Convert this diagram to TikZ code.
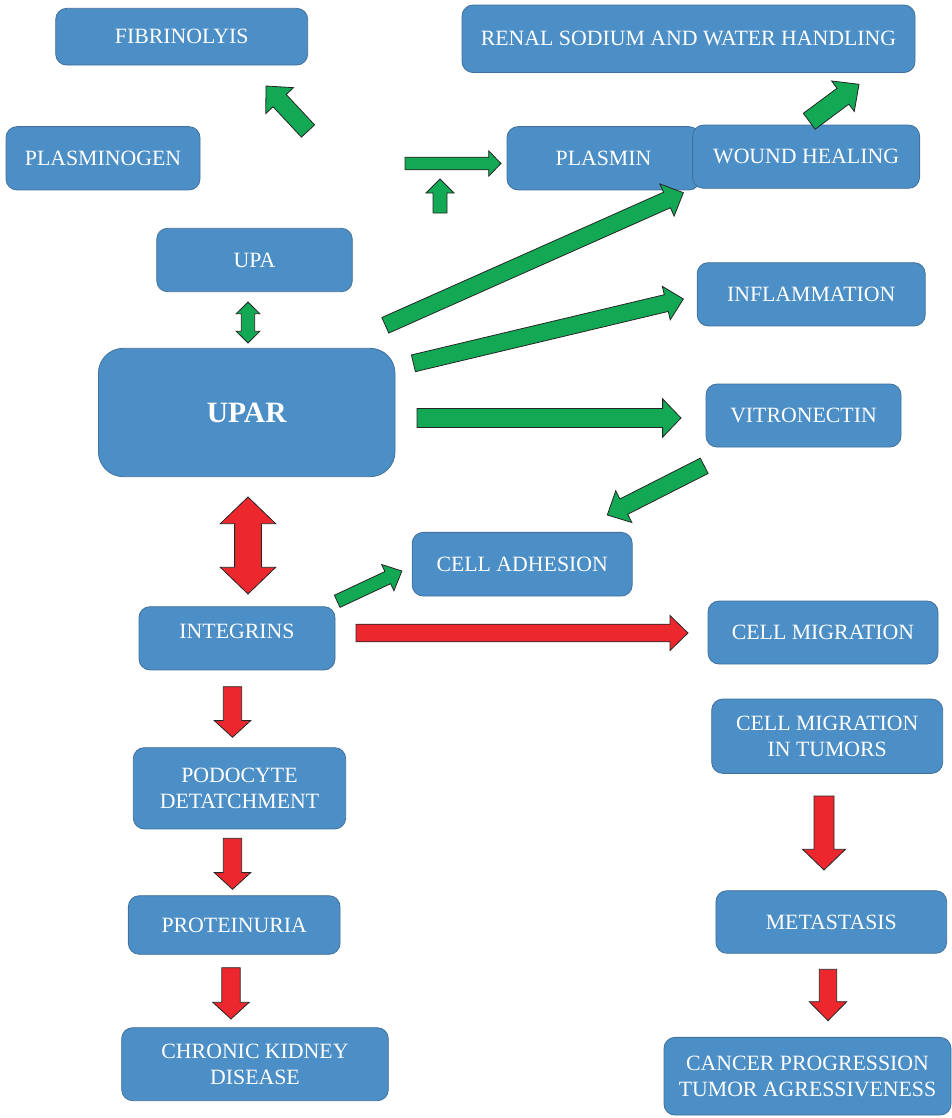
\documentclass[tikz,border=0pt]{standalone}
\usepackage{fontspec}
\setmainfont{Liberation Serif}
\usetikzlibrary{calc}
\definecolor{boxblue}{RGB}{76,142,198}
\definecolor{boxedge}{RGB}{65,113,156}
\definecolor{agreen}{RGB}{18,168,84}
\definecolor{ared}{RGB}{236,40,46}
% single block arrow: tail, tip, shaft half-width, head half-width, head length, style
\newcommand\blockarrow[6]{%
  \coordinate (hb) at ($(#2)!#5!(#1)$);
  \draw[#6] ($(#1)!#3!90:(#2)$) -- ($(hb)!#3!-90:(#1)$) -- ($(hb)!#4!-90:(#1)$) -- (#2)
    -- ($(hb)!#4!90:(#1)$) -- ($(hb)!#3!90:(#1)$) -- ($(#1)!#3!-90:(#2)$) -- cycle;
}
% double block arrow: end, end, shaft half-width, head half-width, head length, style
\newcommand\dblockarrow[6]{%
  \coordinate (ha) at ($(#1)!#5!(#2)$);
  \coordinate (hb) at ($(#2)!#5!(#1)$);
  \draw[#6] (#1) -- ($(ha)!#4!-90:(#2)$) -- ($(ha)!#3!-90:(#2)$) -- ($(hb)!#3!90:(#1)$)
    -- ($(hb)!#4!90:(#1)$) -- (#2) -- ($(hb)!#4!-90:(#1)$) -- ($(hb)!#3!-90:(#1)$)
    -- ($(ha)!#3!90:(#2)$) -- ($(ha)!#4!90:(#2)$) -- cycle;
}
\begin{document}
\begin{tikzpicture}[x=1pt,y=-1pt,
  box/.style={draw=boxedge, line width=0.8pt, fill=boxblue, rounded corners=11pt,
    text=white, font=\fontsize{21.8}{25.5}\selectfont, align=center, inner sep=0pt},
  garrow/.style={fill=agreen, draw=black!85, line width=0.8pt},
  rarrow/.style={fill=ared, draw=black!85, line width=0.8pt}]
\useasboundingbox (0,0) rectangle (952,1118);

% boxes
\node[box, minimum width=252pt, minimum height=56.7pt] (fib) at (181.7,36.7) {FIBRINOLYIS};
\node[box, minimum width=453pt, minimum height=67.5pt] (renal) at (688.5,38.8) {RENAL SODIUM AND WATER HANDLING};
\node[box, minimum width=194pt, minimum height=63.3pt] (plg) at (103,158.3) {PLASMINOGEN};
\node[box, minimum width=193pt, minimum height=63.3pt] (plasmin) at (603.5,158.3) {PLASMIN};
\node[box, minimum width=227pt, minimum height=63.3pt] (wound) at (806.1,156.7) {WOUND HEALING};
\node[box, minimum width=195.6pt, minimum height=63.4pt] (upa) at (254.5,260) {UPA};
\node[box, minimum width=228pt, minimum height=63.3pt] (infl) at (811.2,294.3) {INFLAMMATION};
\node[box, minimum width=296.6pt, minimum height=128.4pt, rounded corners=25pt,
  font=\fontsize{29.5}{33}\selectfont\bfseries] (upar) at (246.7,412.5) {UPAR};
\node[box, minimum width=195pt, minimum height=63pt] (vitro) at (803.5,415.5) {VITRONECTIN};
\node[box, minimum width=220pt, minimum height=63.7pt] (adh) at (522.2,564.2) {CELL ADHESION};
\node[box, minimum width=196pt, minimum height=63.3pt] (integ) at (237,638.3) {};
\node[text=white, font=\fontsize{21.8}{25.5}\selectfont, inner sep=0pt] (integt) at (237,631) {INTEGRINS};
\node[box, minimum width=230pt, minimum height=63pt] (migr) at (823,632.5) {CELL MIGRATION};
\node[box, minimum width=231pt, minimum height=74.3pt] (cmt) at (827.2,736.2) {CELL MIGRATION\\IN TUMORS};
\node[box, minimum width=212.4pt, minimum height=81.3pt] (podo) at (239.5,788.3) {PODOCYTE\\DETATCHMENT};
\node[box, minimum width=211.7pt, minimum height=58.6pt] (prot) at (234.2,925) {PROTEINURIA};
\node[box, minimum width=230.7pt, minimum height=62.6pt] (meta) at (831.3,922) {METASTASIS};
\node[box, minimum width=266.6pt, minimum height=73pt] (ckd) at (255,1064.2) {CHRONIC KIDNEY\\DISEASE};
\node[box, minimum width=287pt, minimum height=77.7pt] (cancer) at (807.5,1076.2) {CANCER PROGRESSION\\TUMOR AGRESSIVENESS};

% arrow end points
\coordinate (a1t) at (308,131);     \coordinate (a1h) at (266,86);
\coordinate (a2t) at (405,163.5);   \coordinate (a2h) at (501,163.5);
\coordinate (a3t) at (440,213);     \coordinate (a3h) at (440,179);
\coordinate (a4a) at (248,302);     \coordinate (a4b) at (248,343);
\coordinate (a5t) at (385.3,325.3); \coordinate (a5h) at (683.4,192.7);
\coordinate (a6t) at (413.4,363.3); \coordinate (a6h) at (683.4,299);
\coordinate (a7t) at (417,418);     \coordinate (a7h) at (681,418);
\coordinate (a8t) at (704.2,465.8); \coordinate (a8h) at (607.3,515);
\coordinate (a9a) at (248,497);     \coordinate (a9b) at (248,594);
\coordinate (a10t) at (337.2,601.3); \coordinate (a10h) at (401.9,571);
\coordinate (a11t) at (356,633);    \coordinate (a11h) at (688,633);
\coordinate (a12t) at (232.5,686.7); \coordinate (a12h) at (232.5,737.3);
\coordinate (a13t) at (232.5,838.3); \coordinate (a13h) at (232.5,889.3);
\coordinate (a14t) at (231,967.7);  \coordinate (a14h) at (231,1019);
\coordinate (a15t) at (824,796);    \coordinate (a15h) at (824,870);
\coordinate (a16t) at (828,969.3);  \coordinate (a16h) at (828,1020.7);
\coordinate (a17t) at (809.2,121.3); \coordinate (a17h) at (859,84.3);

% green arrows
\blockarrow{a1t}{a1h}{9pt}{19pt}{20pt}{garrow}
\blockarrow{a2t}{a2h}{6.3pt}{12.7pt}{12.3pt}{garrow}
\blockarrow{a3t}{a3h}{7pt}{14pt}{14pt}{garrow}
\dblockarrow{a4a}{a4b}{6.7pt}{11.8pt}{11.7pt}{garrow}
\blockarrow{a5t}{a5h}{8.5pt}{17.6pt}{18pt}{garrow}
\blockarrow{a6t}{a6h}{8.6pt}{17.2pt}{17.6pt}{garrow}
\blockarrow{a7t}{a7h}{9.5pt}{19.2pt}{18.4pt}{garrow}
\blockarrow{a8t}{a8h}{8.6pt}{17.8pt}{18.5pt}{garrow}
\blockarrow{a10t}{a10h}{6.7pt}{14.5pt}{15.6pt}{garrow}
\blockarrow{a17t}{a17h}{9.9pt}{19pt}{20pt}{garrow}

% red arrows
\dblockarrow{a9a}{a9b}{13.4pt}{27.7pt}{26.7pt}{rarrow}
\blockarrow{a11t}{a11h}{8.8pt}{17.5pt}{18pt}{rarrow}
\blockarrow{a12t}{a12h}{9.2pt}{18.2pt}{16.7pt}{rarrow}
\blockarrow{a13t}{a13h}{9.2pt}{18.2pt}{16.7pt}{rarrow}
\blockarrow{a14t}{a14h}{9.2pt}{18.2pt}{16.7pt}{rarrow}
\blockarrow{a15t}{a15h}{10pt}{21.5pt}{20.7pt}{rarrow}
\blockarrow{a16t}{a16h}{8.7pt}{18.7pt}{19pt}{rarrow}
\end{tikzpicture}
\end{document}
